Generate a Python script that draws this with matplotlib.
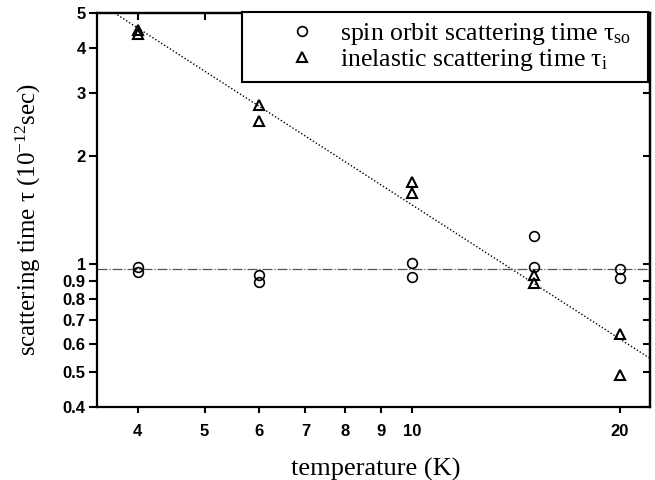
import matplotlib
matplotlib.use("Agg")
import matplotlib.pyplot as plt
from matplotlib.ticker import FixedLocator, NullLocator, FixedFormatter

plt.rcParams['mathtext.fontset'] = 'custom'
plt.rcParams['mathtext.rm'] = 'Liberation Serif'
plt.rcParams['mathtext.it'] = 'Liberation Serif:italic'

# Data
T_so = [4, 4, 6, 6, 10, 10, 15, 15, 20, 20]
tau_so = [0.98, 0.95, 0.935, 0.89, 1.01, 0.92, 1.20, 0.98, 0.97, 0.915]
T_i = [4, 4, 6, 6, 10, 10, 15, 15, 20, 20]
tau_i = [4.48, 4.37, 2.77, 2.50, 1.69, 1.58, 0.93, 0.885, 0.638, 0.49]
fit_T = [3.70, 22.1]
fit_tau = [5.0, 0.547]
so_level = 0.967
x_ticks = [4, 5, 6, 7, 8, 9, 10, 20]
x_labels = ['4', '5', '6', '7', '8', '9', '10', '20']
y_ticks = [0.4, 0.5, 0.6, 0.7, 0.8, 0.9, 1, 2, 3, 4, 5]
y_labels = ['0.4', '0.5', '0.6', '0.7', '0.8', '0.9', '1', '2', '3', '4', '5']

fig = plt.figure(figsize=(6.55, 4.8), dpi=100)
ax = fig.add_axes([0.148, 0.152, 0.844, 0.821])
ax.set_xscale('log')
ax.set_yscale('log')
ax.set_xlim(3.49, 22.1)
ax.set_ylim(0.4, 5)

ax.plot(fit_T, fit_tau, linestyle=(0, (1, 1.5)), color='black', linewidth=1.0, zorder=2)
ax.axhline(so_level, color='#555555', linewidth=0.9, dashes=(8, 1.5, 1, 1.5), zorder=2)

ax.plot(T_so, tau_so, linestyle='none', marker='o', markersize=7, markerfacecolor='none',
        markeredgecolor='black', markeredgewidth=1.2, label=r'spin orbit scattering time τ$_{\mathrm{so}}$  ', zorder=3)
ax.plot(T_i, tau_i, linestyle='none', marker='^', markersize=7.5, markerfacecolor='none',
        markeredgecolor='black', markeredgewidth=1.5, label=r'inelastic scattering time τ$_{\mathrm{i}}$', zorder=3)

for axis, ticks, labels in ((ax.xaxis, x_ticks, x_labels), (ax.yaxis, y_ticks, y_labels)):
    axis.set_major_locator(FixedLocator(ticks))
    axis.set_major_formatter(FixedFormatter(labels))
    axis.set_minor_locator(NullLocator())

ax.tick_params(direction='out', width=1.5, labelsize=12)
ax.tick_params(axis='x', length=4.5, pad=8)
ax.tick_params(axis='y', length=6, pad=2)
for lab in ax.get_xticklabels() + ax.get_yticklabels():
    lab.set_fontfamily('Liberation Sans')
    lab.set_fontweight('bold')

for s in ax.spines.values():
    s.set_linewidth(1.6)

# inward ticks on top and right
secx = ax.secondary_xaxis('top')
secx.xaxis.set_major_locator(FixedLocator(x_ticks))
secx.xaxis.set_minor_locator(NullLocator())
secx.tick_params(direction='in', length=5, width=1.5, labeltop=False)
secx.spines['top'].set_linewidth(1.6)
secy = ax.secondary_yaxis('right')
secy.yaxis.set_major_locator(FixedLocator(y_ticks))
secy.yaxis.set_minor_locator(NullLocator())
secy.tick_params(direction='in', length=5, width=1.5, labelright=False)
secy.spines['right'].set_linewidth(1.6)

ax.set_xlabel('temperature (K)', fontfamily='Liberation Serif', fontsize=19)
ax.set_ylabel(r'scattering time τ (10$^{-12}$sec)', fontfamily='Liberation Serif', fontsize=18)
ax.xaxis.set_label_coords(0.505, -0.13)
ax.yaxis.set_label_coords(-0.098, 0.475)

leg = ax.legend(loc='upper right', bbox_to_anchor=(0.997, 1.003), borderaxespad=0,
                fancybox=False, frameon=True, edgecolor='black', framealpha=1,
                prop={'family': 'Liberation Serif', 'size': 18.5}, handletextpad=-0.5,
                borderpad=0.35, labelspacing=0.0, handlelength=3.97)
leg.get_frame().set_linewidth(1.5)
leg.set_zorder(5)

fig.savefig('out.png', dpi=100)
